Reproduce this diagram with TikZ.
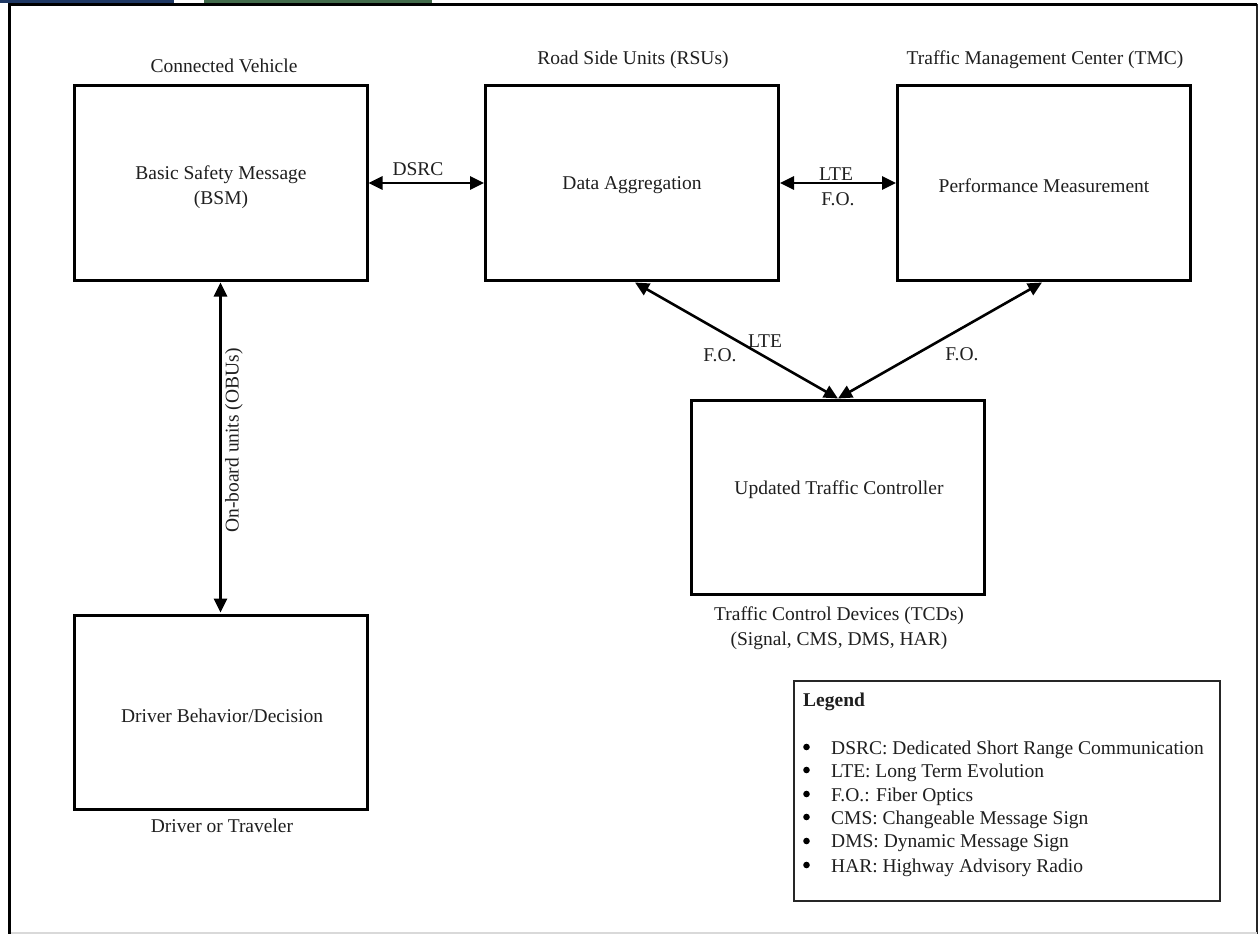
\documentclass[tikz,border=0pt]{standalone}
\usepackage{fontspec}
\setmainfont{Liberation Serif}
\usetikzlibrary{arrows.meta,calc}
\begin{document}
\begin{tikzpicture}[x=1pt,y=-1pt,
  every node/.style={font=\fontsize{19.5}{25}\selectfont, text=black!88},
  unitbox/.style={draw=black, line width=3pt, minimum width=293pt, minimum height=194pt, inner sep=0pt, align=center},
  boxtext/.style={inner sep=0pt, align=center, yshift=-2.5pt},
  caption/.style={inner sep=0pt, align=center, yshift=-2.5pt},
  link/.style={line width=2.6pt, {Triangle[length=14pt,width=13pt]}-{Triangle[length=14pt,width=13pt]}},
  lbl/.style={inner sep=0pt, yshift=-2.5pt},
  legitem/.style={inner sep=0pt, anchor=west, yshift=-2.5pt},
  bullet/.style={circle, fill=black, inner sep=0pt, minimum size=6.6pt}]
  % canvas and frame
  \useasboundingbox (0,0) rectangle (1259,934);
  \fill[white] (0,0) rectangle (1259,934);
  \fill[fill={rgb,255:red,31;green,56;blue,100}] (0,0) rectangle (174,2.6);
  \fill[fill={rgb,255:red,66;green,107;blue,75}] (204,0) rectangle (432,2.6);
  \draw[black!85, line width=1.4pt] (1257,4) -- (1257,934);
  \draw[black!15, line width=1.2pt] (9,933) -- (1257,933);
  \draw[black, line width=3pt] (9,934) -- (9,4.5) -- (1257,4.5);

  % main blocks
  \node[unitbox] (cv)  at (220.5,183) {};
  \node[unitbox] (rsu) at (632,183)   {};
  \node[unitbox] (tmc) at (1044,183)  {};
  \node[unitbox] (utc) at (838,497)   {};
  \node[unitbox] (drv) at (220.5,712) {};

  % block contents
  \node[boxtext] (cvtxt)  at (221,184.5) {Basic Safety Message\\(BSM)};
  \node[boxtext] (rsutxt) at (632,183)   {Data Aggregation};
  \node[boxtext] (tmctxt) at (1044,183)  {Performance Measurement};
  \node[boxtext] (utctxt) at (839,487)   {Updated Traffic Controller};
  \node[boxtext] (drvtxt) at (222,713)   {Driver Behavior/Decision};

  % block captions
  \node[caption] (cvcap)  at (224,63)  {Connected Vehicle};
  \node[caption] (rsucap) at (633,57)  {Road Side Units (RSUs)};
  \node[caption] (tmccap) at (1045,57) {Traffic Management Center (TMC)};
  \node[caption] (drvcap) at (222,823) {Driver or Traveler};
  \node[caption] (utccap) at (839,625.5) {Traffic Control Devices (TCDs)\\(Signal, CMS, DMS, HAR)};

  % communication links
  \draw[link] (cv.east) -- (rsu.west);
  \draw[link] (rsu.east) -- (tmc.west);
  \draw[link] ($(rsu.south)+(3,1)$) -- (utc.north);
  \draw[link] ($(tmc.south)+(-2,1)$) -- (utc.north);
  \draw[link] ($(cv.south)+(0,1)$) -- ($(drv.north)+(0,-1)$);

  % link labels
  \node[lbl] (ldsrc) at (418,167) {DSRC};
  \node[lbl] (llte1) at (836,172) {LTE};
  \node[lbl] (lfo1)  at (838,197) {F.O.};
  \node[lbl] (llte2) at (765,339) {LTE};
  \node[lbl] (lfo2)  at (720,353) {F.O.};
  \node[lbl] (lfo3)  at (962,352) {F.O.};
  \node[inner sep=0pt, rotate=90, xshift=2.5pt] (lobu) at (234,443) {On-board units (OBUs)};

  % legend
  \node[draw=black!85, line width=1.3pt, minimum width=426pt, minimum height=220pt, inner sep=0pt] (legend) at (1007,791) {};
  \node[legitem, font=\fontsize{19.5}{24}\selectfont\bfseries] (legtitle) at (803,699) {Legend};
  \foreach \y/\t [count=\i] in {747/{DSRC: Dedicated Short Range Communication},
                                770/{LTE: Long Term Evolution},
                                794/{F.O.: Fiber Optics},
                                817/{CMS: Changeable Message Sign},
                                841/{DMS: Dynamic Message Sign},
                                865/{HAR: Highway Advisory Radio}} {
    \node[bullet] (bul\i) at (806.5,\y) {};
    \node[legitem] (leg\i) at (831,\y) {\t};
  }
\end{tikzpicture}
\end{document}
